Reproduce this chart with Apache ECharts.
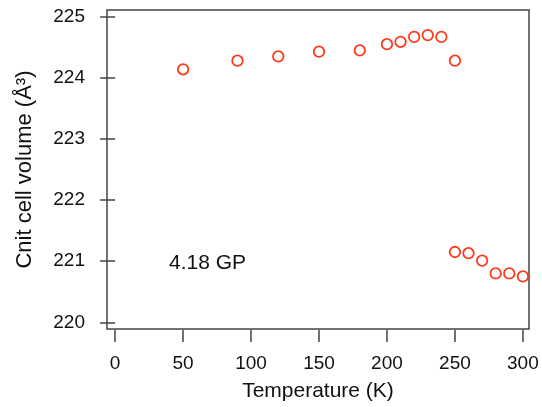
<!DOCTYPE html>
<html>
<head>
<meta charset="utf-8">
<script src="https://cdn.jsdelivr.net/npm/echarts@6/dist/echarts.min.js"></script>
<style>
html,body{margin:0;padding:0;background:#fff;}
#c{width:542px;height:407px;}
</style>
</head>
<body>
<div id="c"></div>
<script>
const temperature = [50, 90, 120, 150, 180, 200, 210, 220, 230, 240, 250, 250, 260, 270, 280, 290, 300];
const volume = [224.14, 224.28, 224.35, 224.43, 224.45, 224.55, 224.59, 224.67, 224.70, 224.67, 224.28, 221.15, 221.13, 221.01, 220.80, 220.80, 220.75];
const xTicks = [0, 50, 100, 150, 200, 250, 300];
const yTicks = [220, 221, 222, 223, 224, 225];
const xTitle = 'Temperature (K)';
const yTitle = 'Cnit cell volume (Å³)';
const annotation = '4.18 GP';
const annotationAt = [68, 220.96];

const FONT = '"Liberation Sans", Arial, Helvetica, sans-serif';
const chart = echarts.init(document.getElementById('c'), null, {renderer: 'canvas'});
chart.setOption({
  animation: false,
  backgroundColor: '#fff',
  grid: {left: 107, right: 13, top: 10, bottom: 78, show: true, borderColor: '#444', borderWidth: 1.5, backgroundColor: 'transparent'},
  xAxis: {
    type: 'value', min: -6, max: 304.5,
    name: xTitle, nameLocation: 'middle', nameGap: 51,
    nameTextStyle: {fontFamily: FONT, fontSize: 21, color: '#111'},
    axisLine: {show: false},
    splitLine: {show: false},
    axisTick: {show: true, length: 12, inside: false, customValues: xTicks, lineStyle: {color: '#444', width: 1.5}},
    axisLabel: {customValues: xTicks, fontFamily: FONT, fontSize: 19, color: '#111', margin: 24},
    offset: 1
  },
  yAxis: {
    type: 'value', min: 219.89, max: 225.11,
    name: yTitle, nameLocation: 'middle', nameGap: 71, nameRotate: 90,
    nameTextStyle: {fontFamily: FONT, fontSize: 22, color: '#111'},
    axisLine: {show: false},
    splitLine: {show: false},
    axisTick: {show: true, length: 15, customValues: yTicks, lineStyle: {color: '#444', width: 1.5}},
    axisLabel: {customValues: yTicks, fontFamily: FONT, fontSize: 19, color: '#111', margin: 22}
  },
  series: [{
    type: 'scatter',
    data: temperature.map((t, i) => [t, volume[i]]),
    symbol: 'circle',
    symbolSize: 10.5,
    itemStyle: {color: 'transparent', borderColor: '#ff3a1c', borderWidth: 1.8, opacity: 1},
    markPoint: {
      symbol: 'rect',
      symbolSize: [1, 1],
      itemStyle: {color: 'rgba(0,0,0,0)', borderWidth: 0},
      data: [{coord: annotationAt, value: annotation}],
      label: {show: true, formatter: annotation, fontFamily: FONT, fontSize: 21, color: '#111', position: 'inside'}
    }
  }]
});
</script>
</body>
</html>
